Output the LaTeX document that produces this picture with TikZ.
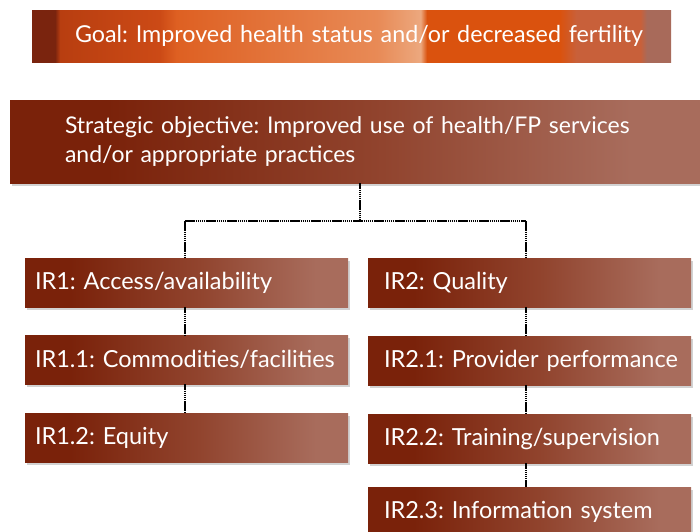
\documentclass[tikz,border=0pt]{standalone}
\usepackage{fontspec}
\setmainfont{Lato}
\usetikzlibrary{calc,shadows}
\frenchspacing
\definecolor{rustdark}{RGB}{122,34,10}
\definecolor{rustmid}{RGB}{145,68,46}
\definecolor{rustlight}{RGB}{168,108,92}
\definecolor{goalA}{RGB}{122,36,14}
\definecolor{goalB}{RGB}{184,62,16}
\definecolor{goalC}{RGB}{204,74,22}
\definecolor{goalD}{RGB}{222,96,34}
\definecolor{goalE}{RGB}{232,138,86}
\definecolor{goalF}{RGB}{236,168,126}
\definecolor{goalG}{RGB}{218,82,14}
\definecolor{goalH}{RGB}{200,96,58}
\definecolor{goalI}{RGB}{168,106,90}
\pgfdeclarehorizontalshading{boxshade}{100bp}{color(0bp)=(rustdark); color(32bp)=(rustdark); color(52bp)=(rustmid); color(70bp)=(rustlight); color(100bp)=(rustlight)}
\pgfdeclarehorizontalshading{goalshade}{100bp}{color(0bp)=(goalA); color(26.8bp)=(goalA); color(27.2bp)=(goalB); color(35bp)=(goalC); color(36.3bp)=(goalD); color(52bp)=(goalE); color(55.4bp)=(goalF); color(55.9bp)=(goalG); color(66.3bp)=(goalG); color(67.6bp)=(goalH); color(72.6bp)=(goalH); color(73.1bp)=(goalI); color(100bp)=(goalI)}
\tikzset{
  irbox/.style={shading=boxshade, drop shadow={opacity=0.35, shadow xshift=2pt, shadow yshift=-3pt},
    minimum height=49pt, text=white, align=left, font=\fontsize{23.5}{27}\selectfont},
  leftbox/.style={irbox, text width=303pt, inner xsep=10pt},
  rightbox/.style={irbox, text width=291pt, inner xsep=16pt},
  link/.style={line width=1.8pt, dash pattern=on 1.5pt off 0.6pt}
}
\begin{document}
\begin{tikzpicture}[x=1pt,y=-1pt]
    \useasboundingbox[fill=white] (0,0) rectangle (700,531);
    \node [shading=goalshade, minimum height=52pt, text width=553pt, inner xsep=43pt,
      text=white, align=left, font=\fontsize{23.3}{28}\selectfont] (goal) at (351.5,36)
      {\mbox{Goal: Improved health status and/or decreased fertility}};
    \node [irbox, text width=580pt, inner xsep=55pt, minimum height=83pt,
      font=\fontsize{23}{29}\selectfont] (so) at (355,141.5)
      {\mbox{Strategic objective: Improved use of health/FP services}\\\mbox{and/or appropriate practices}};
    \node [leftbox] (ir1) at (186.5,282.5) {\mbox{IR1: Access/availability}};
    \node [leftbox] (ir11) at (186.5,359.5) {\mbox{IR1.1: Commodities/facilities}};
    \node [leftbox] (ir12) at (186.5,437.5) {\mbox{IR1.2: Equity}};
    \node [rightbox] (ir2) at (529.5,282.5) {\mbox{IR2: Quality}};
    \node [rightbox] (ir21) at (529.5,360.5) {\mbox{IR2.1: Provider performance}};
    \node [rightbox] (ir22) at (529.5,438.5) {\mbox{IR2.2: Training/supervision}};
    \node [rightbox] (ir23) at (529.5,511.5) {\mbox{IR2.3: Information system}};
    \coordinate (split) at (360,221);
    \coordinate (jl) at (185,221);
    \coordinate (jr) at (526,221);
      \draw [link] (so.south -| split) -- (split);
      \draw [link] (jl) -- (jr);
      \draw [link] (jl) -- (ir1.north -| jl);
      \draw [link] (jr) -- (ir2.north -| jr);
      \draw [link] (ir1.south -| jl) -- (ir11.north -| jl);
      \draw [link] (ir11.south -| jl) -- (ir12.north -| jl);
      \draw [link] (ir2.south -| jr) -- (ir21.north -| jr);
      \draw [link] (ir21.south -| jr) -- (ir22.north -| jr);
      \draw [link] (ir22.south -| jr) -- (ir23.north -| jr);
  \end{tikzpicture}
\end{document}
